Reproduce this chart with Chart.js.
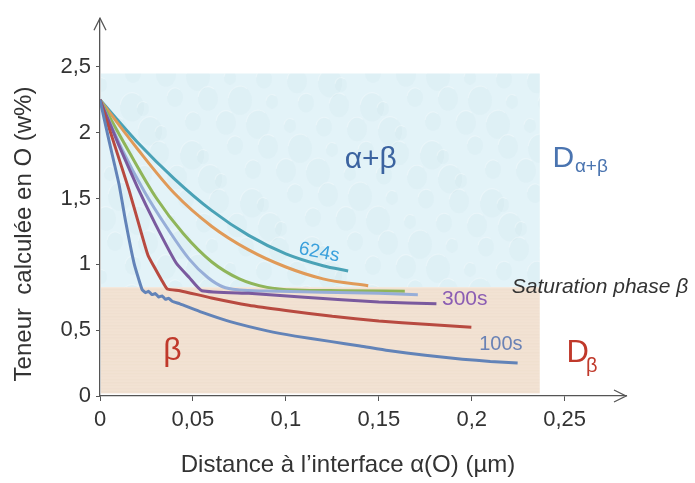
<!DOCTYPE html>
<html>
<head>
<meta charset="utf-8">
<script src="https://cdn.jsdelivr.net/npm/chart.js@4.4.0/dist/chart.umd.min.js"></script>
<style>
  html, body { margin: 0; padding: 0; background: #fff; }
  #wrap { width: 695px; height: 483px; }
</style>
</head>
<body>
<div id="wrap"><canvas id="profileChart" width="695" height="483"></canvas></div>
<script>
// Oxygen profiles (w%) vs distance to the alpha(O) interface, one pair per holding time
const dist100 = [0, 0.005, 0.0102, 0.014, 0.0183, 0.0226, 0.0245, 0.0262, 0.028, 0.0298, 0.0316, 0.0334, 0.0352, 0.037, 0.0388, 0.043, 0.055, 0.07, 0.09, 0.105, 0.1237, 0.14, 0.155, 0.175, 0.195, 0.21, 0.2247];
const teneur100 = [2.25, 1.93, 1.61, 1.31, 1.01, 0.81, 0.785, 0.795, 0.77, 0.778, 0.752, 0.76, 0.735, 0.742, 0.72, 0.70, 0.635, 0.565, 0.495, 0.455, 0.415, 0.38, 0.345, 0.31, 0.28, 0.262, 0.25];

const distRed = [0, 0.008, 0.0155, 0.021, 0.0258, 0.0298, 0.0332, 0.0362, 0.043, 0.06, 0.08, 0.1, 0.125, 0.15, 0.175, 0.1998];
const teneurRed = [2.25, 1.90, 1.57, 1.30, 1.07, 0.965, 0.88, 0.813, 0.80, 0.745, 0.69, 0.65, 0.605, 0.57, 0.545, 0.523];

const dist300 = [0, 0.01, 0.02, 0.03, 0.041, 0.048, 0.0548, 0.08, 0.11, 0.15, 0.181];
const teneur300 = [2.25, 1.91, 1.59, 1.30, 1.01, 0.90, 0.80, 0.78, 0.75, 0.715, 0.70];

const distLav = [0, 0.012, 0.024, 0.036, 0.048, 0.058, 0.066, 0.075, 0.09, 0.12, 0.15, 0.171];
const teneurLav = [2.25, 1.87, 1.55, 1.28, 1.04, 0.90, 0.83, 0.805, 0.797, 0.789, 0.78, 0.77];

const distGreen = [0, 0.015, 0.03, 0.045, 0.06, 0.075, 0.09, 0.105, 0.13, 0.164];
const teneurGreen = [2.25, 1.87, 1.51, 1.23, 1.02, 0.89, 0.825, 0.805, 0.80, 0.796];

const distOrange = [0, 0.02, 0.04, 0.06, 0.08, 0.1, 0.12, 0.1443];
const teneurOrange = [2.25, 1.88, 1.54, 1.29, 1.11, 0.98, 0.89, 0.838];

const dist624 = [0, 0.02, 0.04, 0.06, 0.08, 0.1, 0.12, 0.1335];
const teneur624 = [2.25, 1.93, 1.65, 1.41, 1.22, 1.08, 0.99, 0.95];

const xTicks = [0, 0.05, 0.1, 0.15, 0.2, 0.25];
const yTicks = [0, 0.5, 1, 1.5, 2, 2.5];

// phase domains
const domainRight = 0.2366;
const domainTop = 2.45;
const saturationBeta = 0.826;
const domainBottom = 0.02;

const FONT = '"Liberation Sans", Arial, sans-serif';
const comma = v => String(v).replace('.', ',');
const pts = (xs, ys) => xs.map((x, i) => ({ x: x, y: ys[i] }));

// kinked profiles use a light bezier so the corner at saturation stays sharp
function profile(xs, ys, color, kinked) {
  const ds = {
    data: pts(xs, ys),
    borderColor: color,
    borderWidth: 3,
    pointRadius: 0,
    fill: false
  };
  if (kinked) ds.tension = 0.15;
  else ds.cubicInterpolationMode = 'monotone';
  return ds;
}

// texture of the two domains + axis arrows + annotations
const decor = {
  id: 'decor',
  beforeDatasetsDraw(chart) {
    const { ctx, scales: { x, y } } = chart;
    const l = x.getPixelForValue(0) + 1, r = x.getPixelForValue(domainRight);
    const t = y.getPixelForValue(domainTop), s = y.getPixelForValue(saturationBeta), b = y.getPixelForValue(domainBottom);
    ctx.save();
    // alpha+beta domain: pale water-drop texture
    ctx.fillStyle = '#e3f3f8';
    ctx.fillRect(l, t, r - l, s - t);
    ctx.beginPath(); ctx.rect(l, t, r - l, s - t); ctx.clip();
    const offs = [0, 13, 5, 19, 9, 2, 16, 7];
    for (let row = 0; row * 24 < s - t + 24; row++) {
      for (let col = 0; col * 30 < r - l + 30; col++) {
        const k = (row * 3 + col * 5) % offs.length;
        const cx = l + col * 30 + offs[k] + (row % 2) * 12;
        const cy = t + row * 24 + offs[(k + 3) % offs.length] * 0.6;
        const rx = 6 + (k % 4) * 2, ry = rx * 1.2;
        ctx.fillStyle = 'rgba(180,212,226,0.09)';
        ctx.beginPath(); ctx.ellipse(cx, cy, rx, ry, 0, 0, Math.PI * 2); ctx.fill();
        ctx.strokeStyle = 'rgba(255,255,255,0.3)';
        ctx.lineWidth = 1.2;
        ctx.beginPath(); ctx.ellipse(cx, cy, rx, ry, 0, Math.PI * 1.05, Math.PI * 1.7); ctx.stroke();
      }
    }
    ctx.restore();
    ctx.save();
    // beta domain: light wood grain
    ctx.fillStyle = '#f2e2d3';
    ctx.fillRect(l, s, r - l, b - s);
    for (let yy = s + 2; yy < b; yy += 3) {
      const a = 0.02 + 0.04 * Math.abs(Math.sin(yy * 0.71));
      ctx.strokeStyle = 'rgba(200,175,150,' + a.toFixed(3) + ')';
      ctx.lineWidth = 1;
      ctx.beginPath(); ctx.moveTo(l, yy + 0.5); ctx.lineTo(r, yy + 0.5); ctx.stroke();
    }
    ctx.restore();
  },
  afterDraw(chart) {
    const { ctx, chartArea: ca, scales: { x, y } } = chart;
    const x0 = x.getPixelForValue(0), y0 = y.getPixelForValue(0);
    ctx.save();
    ctx.strokeStyle = '#555';
    ctx.lineWidth = 1.3;
    ctx.beginPath();
    ctx.moveTo(x0 - 6, ca.top + 12); ctx.lineTo(x0, ca.top); ctx.lineTo(x0 + 6, ca.top + 12);
    ctx.moveTo(ca.right - 12, y0 - 6); ctx.lineTo(ca.right, y0); ctx.lineTo(ca.right - 12, y0 + 6);
    ctx.stroke();

    const put = (txt, vx, vy, size, color, opts = {}) => {
      ctx.save();
      ctx.font = (opts.italic ? 'italic ' : '') + size + 'px ' + FONT;
      ctx.fillStyle = color;
      ctx.textAlign = opts.align || 'left';
      ctx.textBaseline = 'alphabetic';
      ctx.translate(x.getPixelForValue(vx), y.getPixelForValue(vy));
      if (opts.rot) ctx.rotate(opts.rot);
      ctx.fillText(txt, 0, 0);
      ctx.restore();
    };
    put('\u03b1+\u03b2', 0.1457, 1.73, 30, '#3b63a0', { align: 'center' });
    put('D', 0.2435, 1.74, 30, '#4a74b0');
    put('\u03b1+\u03b2', 0.2555, 1.70, 19, '#4a74b0');
    put('Saturation phase \u03b2', 0.2215, 0.78, 21, '#333', { italic: true });
    put('624s', 0.1065, 1.08, 19, '#3aa0dc', { rot: 0.19 });
    put('300s', 0.184, 0.69, 21, '#8b5db3');
    put('100s', 0.204, 0.35, 20, '#6a82b5');
    put('\u03b2', 0.034, 0.27, 32, '#c0392b');
    put('D', 0.251, 0.255, 31, '#c0392b');
    put('\u03b2', 0.2615, 0.18, 20, '#c0392b');

    // axis titles
    ctx.fillStyle = '#333';
    ctx.font = '24px ' + FONT;
    ctx.textAlign = 'center';
    ctx.textBaseline = 'middle';
    ctx.fillText('Distance \u00e0 l\u2019interface \u03b1(O) (\u00b5m)', 348, 465);
    ctx.translate(24, 234);
    ctx.rotate(-Math.PI / 2);
    ctx.fillText('Teneur  calcul\u00e9e en O (w%)', 0, 0);
    ctx.restore();
  }
};

new Chart(document.getElementById('profileChart'), {
  type: 'line',
  data: {
    datasets: [
      profile(dist100, teneur100, '#6283b8', true),
      profile(distRed, teneurRed, '#b84a40', true),
      profile(dist300, teneur300, '#7a5a9e', true),
      profile(distLav, teneurLav, '#97aed8'),
      profile(distGreen, teneurGreen, '#8fb55a'),
      profile(distOrange, teneurOrange, '#e09a58'),
      profile(dist624, teneur624, '#4aa2b6')
    ]
  },
  options: {
    responsive: false,
    animation: false,
    events: [],
    layout: { padding: { left: 0, top: 10, right: 69, bottom: 0 } },
    plugins: { legend: { display: false }, tooltip: { enabled: false } },
    scales: {
      x: {
        type: 'linear',
        min: 0,
        max: 0.283,
        afterBuildTicks: s => { s.ticks = xTicks.map(v => ({ value: v })); },
        afterFit: s => { s.height = 87; },
        ticks: { callback: v => comma(v), font: { family: FONT, size: 22 }, color: '#333', padding: 6, maxRotation: 0 },
        grid: { drawOnChartArea: false, tickLength: 5, color: '#555' },
        border: { color: '#555', width: 1.3 }
      },
      y: {
        type: 'linear',
        min: 0,
        max: 2.87,
        afterBuildTicks: s => { s.ticks = yTicks.map(v => ({ value: v })); },
        afterFit: s => { s.width = 100; },
        ticks: { callback: v => comma(v), font: { family: FONT, size: 22 }, color: '#333', padding: 5 },
        grid: { drawOnChartArea: false, tickLength: 4, color: '#555' },
        border: { color: '#555', width: 1.3 }
      }
    }
  },
  plugins: [decor]
});
</script>
</body>
</html>
